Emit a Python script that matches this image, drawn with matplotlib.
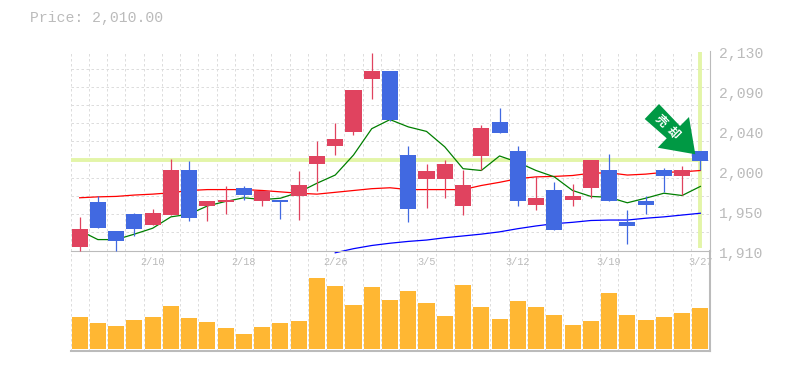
import numpy as np
import matplotlib
matplotlib.use('Agg')
from matplotlib import pyplot as plt
from matplotlib.patches import Polygon
from matplotlib.transforms import ScaledTranslation

# candle values
body_top = [1934, 1963, 1931, 1950, 1951, 1999, 1999, 1964, 1965, 1979, 1975, 1965,
            1981.5, 2014.5, 2033, 2086, 2107, 2107, 2015.5, 1998, 2005.5, 1982.5, 2045, 2051,
            2020, 1968, 1976, 1969.5, 2009, 1998, 1941, 1964, 1998, 1998, 2019]
body_bot = [1914, 1935, 1921, 1934, 1938.5, 1949.5, 1946, 1958.5, 1963, 1971.5, 1964, 1963,
            1969.5, 2005.5, 2024.5, 2040, 2099, 2054, 1956, 1989, 1989, 1959.5, 2013.5, 2039,
            1965, 1960.5, 1933, 1966, 1979, 1964, 1936.5, 1960.5, 1991.5, 1991.5, 2009]
wick_top = [1947, 1970.5, 1932, 1951, 1956, 2011, 2009, 1965, 1981.5, 1980.5, 1976, 1966,
            1997, 2031, 2050, 2086, 2127, 2107, 2024.5, 2005.5, 2010, 1999, 2048.5, 2067,
            2025.5, 1991.5, 1985, 1983.5, 2009, 2016.5, 1955, 1970.5, 2001, 2003.5, 2020]
wick_bot = [1909, 1935, 1909, 1926.5, 1938.5, 1949.5, 1943, 1942, 1950.5, 1966, 1959.5, 1945,
            1944, 1975, 2015.5, 2037.5, 2077, 2053, 1941, 1957, 1968, 1949.5, 1999, 2039,
            1959.5, 1955, 1933, 1958.5, 1968, 1964, 1917.5, 1950.5, 1974.5, 1971.5, 1999]
is_up = [1, 0, 0, 0, 1, 1, 0, 1, 1, 0, 1, 0,
         1, 1, 1, 1, 1, 0, 0, 1, 1, 1, 1, 0,
         0, 1, 0, 1, 1, 0, 0, 0, 0, 1, 0]

# moving averages
ma_red = [1968, 1969, 1969.5, 1971, 1972, 1973.5, 1976, 1977, 1977, 1977, 1976, 1974.5,
          1973, 1972, 1974, 1976, 1978, 1979, 1977, 1977, 1977, 1977, 1981.5, 1985,
          1989, 1991, 1991.5, 1992.5, 1995, 1995.5, 1993, 1994, 1996, 1996.5, 1998]
ma_green = [1932, 1922, 1922, 1928, 1934.5, 1947, 1950, 1959, 1964, 1968, 1966, 1967.5,
            1974, 1984, 1993, 2015, 2044, 2054, 2046, 2041, 2024, 2000, 1998, 2014,
            2007, 1998, 1991, 1976, 1969.5, 1968.5, 1962.5, 1967.5, 1973, 1970.5, 1980.5]
ma_blue = [np.nan] * 14 + [1907.5, 1912, 1915.5, 1918, 1920, 1921.5, 1924, 1926, 1928, 1930.5,
                           1934, 1937, 1939.5, 1941, 1943, 1943.5, 1943.5, 1945.5, 1947, 1949, 1951]

volume = [96, 78, 69, 87, 96, 129, 93, 81, 63, 45, 66, 78, 84, 213, 189, 132, 186, 147,
          174, 138, 99, 192, 126, 90, 144, 126, 102, 72, 84, 168, 102, 87, 96, 108, 123]

date_pos = [4, 9, 14, 19, 24, 29, 34]
date_labels = ['2/10', '2/18', '2/26', '3/5', '3/12', '3/19', '3/27']
price_ticks = [1910, 1954, 1998, 2042, 2086, 2130]
price_labels = ['1,910', '1,950', '2,000', '2,040', '2,090', '2,130']
last_price = 2010

RED = '#E0435F'
BLUE = '#4169E1'
GRID = '#DDDDDD'
AXIS = '#BBBBBB'
LIME = '#E3F5A8'
W, H = 785, 370

plt.rcParams['font.family'] = ['Liberation Mono', 'Noto Sans CJK JP', 'DejaVu Sans']

fig = plt.figure(figsize=(W / 100, H / 100), dpi=100)
left, right = 70.5 / W, 709.5 / W
ax0 = fig.add_axes([left, 1 - 250.5 / H, right - left, 200 / H])
ax1 = fig.add_axes([left, 1 - 350.5 / H, right - left, 100 / H])
ax0.set_zorder(2)
ax0.patch.set_visible(False)

dash = (0, (2.5, 2.5))
x = np.arange(len(body_top))
for ax in (ax0, ax1):
    ax.set_xlim(-0.5, len(x) - 0.5)
    ax.set_xticks(x[:-1] + 0.5, minor=True)
    ax.grid(True, which='minor', axis='x', color=GRID, ls=dash, lw=0.72)
    ax.tick_params(which='both', length=0)
    for s in ax.spines.values():
        s.set_visible(False)
    ax.set_axisbelow(True)
    ax.axvline(-0.5, color=GRID, ls=dash, lw=0.72, zorder=0)

# price panel
ax0.set_ylim(1910, 2130)
ax0.set_yticks(np.arange(1910, 2131, 20), minor=True)
ax0.grid(True, which='minor', axis='y', color=GRID, ls=dash, lw=0.72)
ax0.yaxis.tick_right()
ax0.set_yticks(price_ticks, price_labels, color=AXIS, fontsize=10.6)
ax0.tick_params(axis='y', pad=7)
shift = ScaledTranslation(0, -2 / 100, fig.dpi_scale_trans)
for lab in ax0.get_yticklabels():
    lab.set_transform(lab.get_transform() + shift)
ax0.set_xticks(date_pos, date_labels, color=AXIS, fontsize=7.4)
ax0.tick_params(axis='x', pad=5)
ax0.spines['bottom'].set_visible(True)
ax0.spines['bottom'].set_color(AXIS)
ax0.spines['right'].set_visible(True)
ax0.spines['right'].set_color(AXIS)

ax0.plot([-0.5, x[-1]], [last_price, last_price], color=LIME, lw=2.8, zorder=1.5, solid_capstyle='butt')
ax0.plot([x[-1], x[-1]], [1913, 2128], color=LIME, lw=2.8, zorder=1.5, solid_capstyle='butt')

ax0.plot(x, ma_red, color='#FF0000', lw=0.9, zorder=2)
ax0.plot(x, ma_blue, color='#0000FF', lw=0.9, zorder=2, clip_on=False)
colors = [RED if u else BLUE for u in is_up]
ax0.vlines(x, wick_bot, wick_top, colors=colors, lw=0.9, zorder=3, clip_on=False)
ax0.bar(x, np.subtract(body_top, body_bot), bottom=body_bot, width=0.88, color=colors, zorder=3)
ax0.plot(x, ma_green, color='#007F00', lw=0.9, zorder=2.5)

# volume panel
ax1.bar(x, volume, width=0.88, color='#FFB733', zorder=3)
ax1.set_ylim(-6, 294)
ax1.set_yticks([])
ax1.set_xticks([])
for side in ('bottom', 'right'):
    ax1.spines[side].set_visible(True)
    ax1.spines[side].set_color(AXIS)
    ax1.spines[side].set_linewidth(1.5)

fig.text(30 / W, 1 - 18 / H, 'Price: 2,010.00', color=AXIS, fontsize=10.6, va='center')

# green signal arrow, placed in pixels
arrow_px = [(659, 104), (644.7, 119), (666.7, 138.3), (657.7, 147.7),
            (695.3, 154.3), (689, 117), (680, 126)]
arrow_fig = [(px / W, 1 - py / H) for px, py in arrow_px]
fig.add_artist(Polygon(arrow_fig, closed=True, transform=fig.transFigure,
                       facecolor='#009944', edgecolor='none', zorder=10))
fig.text(667 / W, 1 - 126.5 / H, '売  却', color='white', fontsize=8.5, fontweight='bold',
         rotation=-45, ha='center', va='center', zorder=11, rotation_mode='anchor',
         family=['Noto Sans CJK JP', 'DejaVu Sans'])

fig.savefig('out.png', dpi=100)
